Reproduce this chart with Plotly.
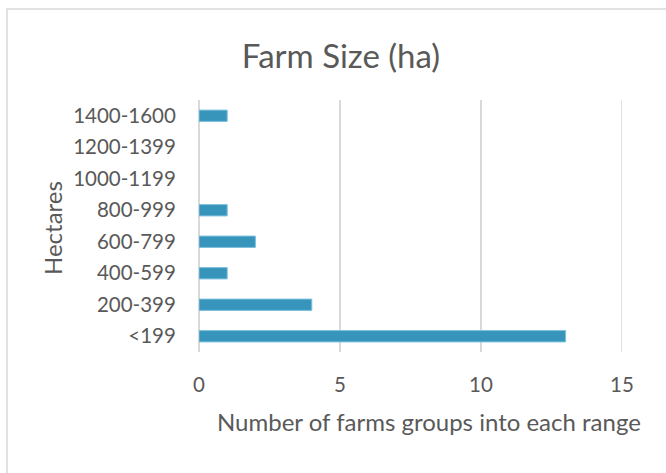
import plotly.graph_objects as go

categories = ["<199", "200-399", "400-599", "600-799", "800-999", "1000-1199", "1200-1399", "1400-1600"]
counts = [13, 4, 1, 2, 1, 0, 0, 1]
x_ticks = [0, 5, 10, 15]

FONT = "Lato, 'Open Sans', sans-serif"
TXT = "#595959"
GRID = "#d9d9d9"

L, R, T, B = 199, 44, 100, 121
W, H = 666, 473
pw, ph = W - L - R, H - T - B

def px_x(p):
    return (p - L) / pw

def px_y(p):
    return (H - B - p) / ph

fig = go.Figure(go.Bar(
    y=categories, x=counts, orientation="h", width=0.36,
    marker=dict(color="#3795bc",
                line=dict(color="#7cc0dc", width=[1 if c > 0 else 0 for c in counts])),
))

fig.update_layout(
    width=W, height=H, margin=dict(l=L, r=R, t=T, b=B),
    paper_bgcolor="white", plot_bgcolor="white",
    showlegend=False,
    font=dict(family=FONT, color=TXT, size=20),
    title=dict(text="Farm Size (ha)", x=341 / W, xanchor="center",
               y=1 - 56 / H, yanchor="middle", font=dict(size=33, color=TXT)),
    xaxis=dict(range=[0, 15], tickvals=x_ticks, showgrid=True, gridcolor=GRID,
               gridwidth=1.5, zeroline=True, zerolinecolor=GRID, zerolinewidth=1.5,
               showline=False, ticks="outside", ticklen=14, tickcolor="rgba(0,0,0,0)",
               tickfont=dict(size=20.5), automargin=False),
    yaxis=dict(categoryorder="array", categoryarray=categories, showgrid=False, zeroline=False,
               showline=False, ticks="outside", ticklen=18, tickcolor="rgba(0,0,0,0)",
               tickfont=dict(size=20.5), automargin=False),
    annotations=[
        dict(text="Number of farms groups into each range", xref="paper", yref="paper",
             x=px_x(429), y=px_y(421), xanchor="center", yanchor="middle",
             showarrow=False, font=dict(size=24, color=TXT)),
        dict(text="Hectares", xref="paper", yref="paper", textangle=-90,
             x=px_x(52), y=px_y(228), xanchor="center", yanchor="middle",
             showarrow=False, font=dict(size=24, color=TXT)),
    ],
    shapes=[
        dict(type="line", xref="x", yref="paper", x0=15, x1=15, y0=0, y1=1,
             line=dict(color=GRID, width=1.5), layer="below"),
        dict(type="rect", xref="paper", yref="paper",
             x0=px_x(7), x1=px_x(680), y0=px_y(490), y1=px_y(9),
             line=dict(color=GRID, width=1.5), fillcolor="rgba(0,0,0,0)", layer="below"),
    ],
)

fig.write_html("out.html")
